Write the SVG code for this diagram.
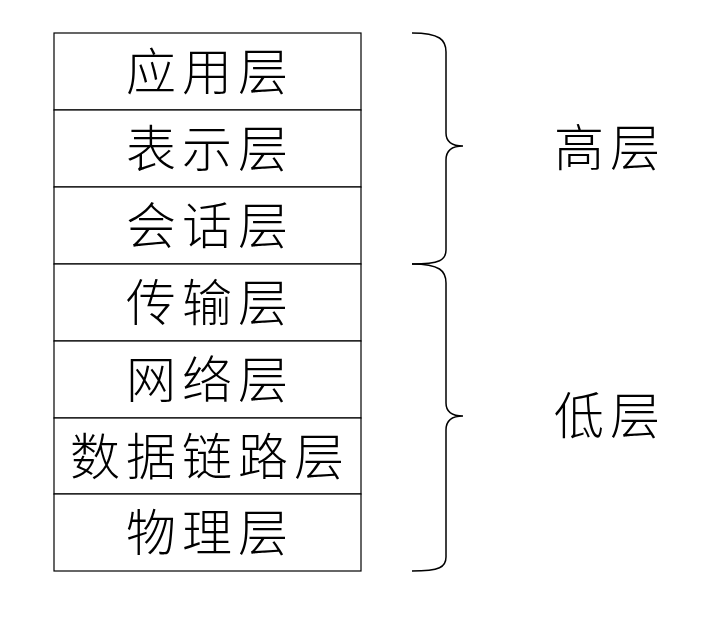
<svg xmlns="http://www.w3.org/2000/svg" width="711" height="624" viewBox="0 0 711 624">
<style>
.box{fill:#fff;stroke:#000;stroke-width:1.2}
.t{font-family:"Noto Sans CJK SC","Liberation Sans",sans-serif;font-size:50px;font-weight:300;letter-spacing:6px;fill:#000;text-anchor:middle;dominant-baseline:central}
.br{fill:none;stroke:#000;stroke-width:1.5}
</style>
<rect width="711" height="624" fill="#fff"/>
<g id="n1"><rect class="box" x="54" y="33" width="307" height="77"/><text class="t" x="210" y="68">应用层</text></g>
<g id="n2"><rect class="box" x="54" y="110" width="307" height="77"/><text class="t" x="210" y="145">表示层</text></g>
<g id="n3"><rect class="box" x="54" y="187" width="307" height="77"/><text class="t" x="210" y="222">会话层</text></g>
<g id="n4"><rect class="box" x="54" y="264" width="307" height="77"/><text class="t" x="210" y="299">传输层</text></g>
<g id="n5"><rect class="box" x="54" y="341" width="307" height="77"/><text class="t" x="210" y="376">网络层</text></g>
<g id="n6"><rect class="box" x="54" y="418" width="307" height="76"/><text class="t" x="210" y="453">数据链路层</text></g>
<g id="n7"><rect class="box" x="54" y="494" width="307" height="77"/><text class="t" x="210" y="529">物理层</text></g>
<g id="connectors">
<path class="br" d="M412,33 C440,33 446,40 446,52 L446,133 C446,142 452,146 463,146 C452,146 446,150 446,160 L446,250 C446,260 440,264 412,264"/>
<path class="br" d="M412,264 C440,264 446,271 446,283 L446,403 C446,412 452,416 463,416 C452,416 446,420 446,430 L446,557 C446,567 440,571 412,571"/>
</g>
<g id="hi"><text class="t" x="610" y="144">高层</text></g>
<g id="lo"><text class="t" x="610" y="412">低层</text></g>
</svg>
